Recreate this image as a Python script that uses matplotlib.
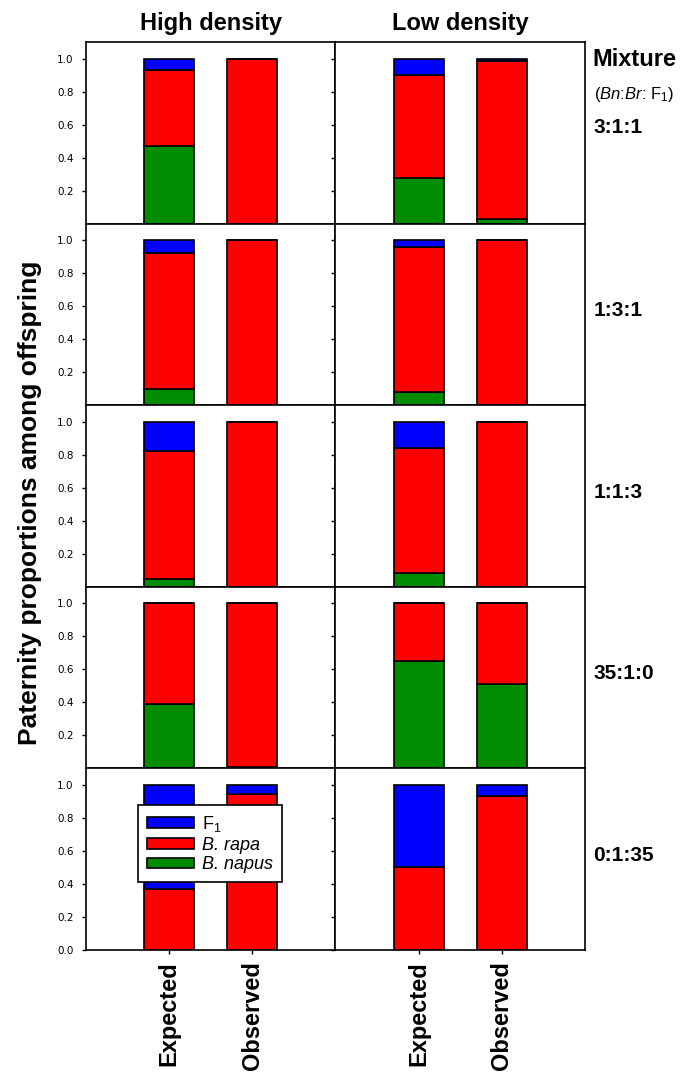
import matplotlib
matplotlib.use('Agg')
import matplotlib.pyplot as plt
import numpy as np

plt.rcParams['font.family'] = ['Liberation Sans', 'DejaVu Sans']
plt.rcParams['mathtext.fontset'] = 'custom'
plt.rcParams['mathtext.rm'] = 'Liberation Sans'
plt.rcParams['mathtext.it'] = 'Liberation Sans:italic'

# 数据：每个混合比例下 [Expected, Observed]
mixtures = ['3:1:1', '1:3:1', '1:1:3', '35:1:0', '0:1:35']
densities = ['High density', 'Low density']
bar_labels = ['Expected', 'Observed']

napus_high = [[0.47, 0.00], [0.10, 0.00], [0.045, 0.00], [0.39, 0.005], [0.00, 0.00]]
rapa_high = [[0.46, 1.00], [0.825, 1.00], [0.775, 1.00], [0.61, 0.995], [0.37, 0.945]]
f1_high = [[0.07, 0.00], [0.075, 0.00], [0.18, 0.00], [0.00, 0.00], [0.63, 0.055]]

napus_low = [[0.275, 0.03], [0.083, 0.00], [0.082, 0.00], [0.65, 0.51], [0.00, 0.00]]
rapa_low = [[0.625, 0.955], [0.877, 1.00], [0.758, 1.00], [0.35, 0.49], [0.50, 0.93]]
f1_low = [[0.10, 0.015], [0.04, 0.00], [0.16, 0.00], [0.00, 0.00], [0.50, 0.07]]

c_f1 = '#0000ff'
c_rapa = '#ff0000'
c_napus = '#008c00'

fig, axes = plt.subplots(5, 2, figsize=(6.93, 10.83), dpi=100)
fig.subplots_adjust(left=0.124, right=0.844, top=0.961, bottom=0.123,
                    hspace=0, wspace=0)

x = np.array([1, 2])
w = 0.6
data = [(napus_high, rapa_high, f1_high), (napus_low, rapa_low, f1_low)]

for i in range(5):
    for j in range(2):
        ax = axes[i, j]
        napus = np.array(data[j][0][i])
        rapa = np.array(data[j][1][i])
        f1 = np.array(data[j][2][i])
        b1 = ax.bar(x, napus, w, color=c_napus, edgecolor='black', linewidth=1.2)
        b2 = ax.bar(x, rapa, w, bottom=napus, color=c_rapa, edgecolor='black', linewidth=1.2)
        b3 = ax.bar(x, f1, w, bottom=napus + rapa, color=c_f1, edgecolor='black', linewidth=1.2)
        ax.set_xlim(0, 3)
        ax.set_ylim(0, 1.1)
        ax.set_xticks(x)
        ax.tick_params(direction='out', length=3, width=1, pad=6)
        ax.tick_params(axis='x', pad=5)
        if i == 4:
            ax.set_yticks([0.0, 0.2, 0.4, 0.6, 0.8, 1.0])
            ax.set_xticklabels(bar_labels, rotation=90, fontsize=17,
                               fontweight='bold', va='top')
        else:
            ax.set_yticks([0.2, 0.4, 0.6, 0.8, 1.0])
            ax.set_xticklabels([])
        if j == 1:
            ax.set_yticklabels([])
        else:
            for t in ax.get_yticklabels():
                t.set_fontfamily('DejaVu Sans')
                t.set_fontsize(7.5)
        for s in ax.spines.values():
            s.set_linewidth(1.2)
        if i == 0:
            ax.set_title(densities[j], fontsize=17, fontweight='bold', pad=9)

    # 右侧混合比例
    axes[i, 1].text(1.035, 0.53 if i == 0 else 0.52, mixtures[i],
                    transform=axes[i, 1].transAxes, fontsize=15,
                    fontweight='bold', ha='left', va='center')

fig.text(0.855, 0.9446, 'Mixture', fontsize=17, fontweight='bold',
         ha='left', va='center')
fig.text(0.857, 0.9123, r'($\it{Bn}$:$\it{Br}$: F$_1$)', fontsize=12,
         ha='left', va='center')

fig.text(0.043, 0.5356, 'Paternity proportions among offspring', rotation=90,
         fontsize=19, fontweight='bold', ha='center', va='center')

# 图例
leg = axes[4, 0].legend([b3, b2, b1], ['F$_1$', 'B. rapa', 'B. napus'],
                        loc='upper left', bbox_to_anchor=(0.208, 0.798),
                        borderaxespad=0, fancybox=False, framealpha=1,
                        edgecolor='black', fontsize=13, handlelength=2.6,
                        handleheight=0.55, labelspacing=0.15, handletextpad=0.45,
                        borderpad=0.5)
leg.get_frame().set_linewidth(1.2)
leg.get_texts()[1].set_style('italic')
leg.get_texts()[2].set_style('italic')

plt.savefig('out.png', dpi=100)
